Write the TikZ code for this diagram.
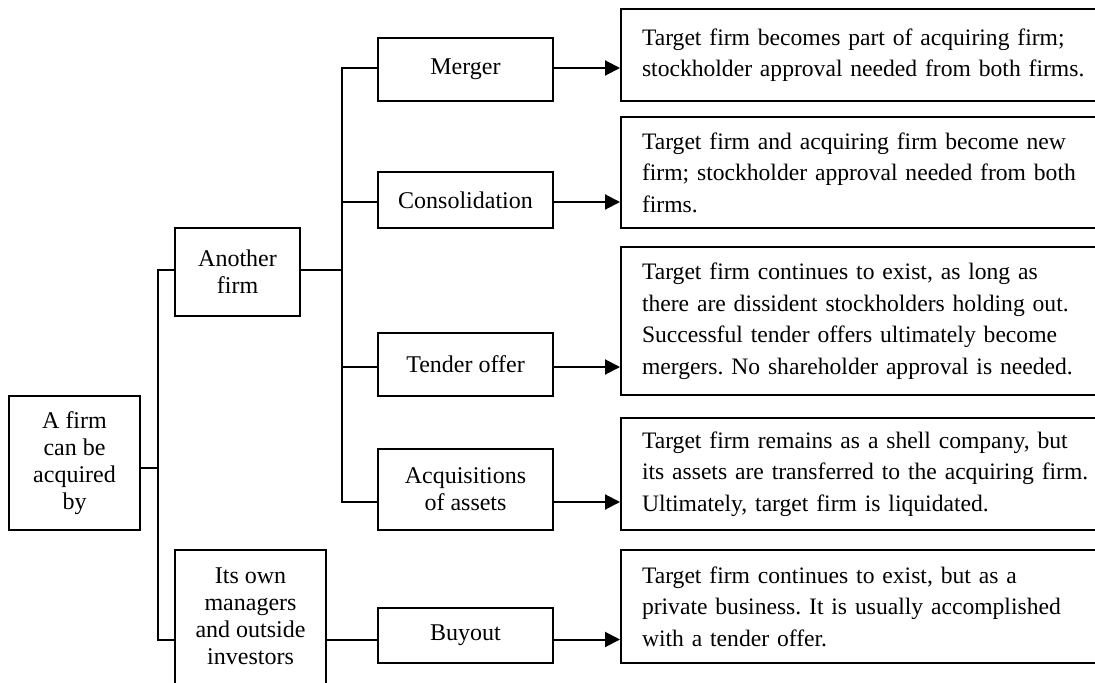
\documentclass[tikz,border=0pt]{standalone}
\usepackage{fontspec}
\setmainfont{Liberation Serif}
\usetikzlibrary{arrows.meta}
\frenchspacing
\tikzset{
  plainbox/.style={draw,line width=1pt,align=center,inner sep=0pt,font=\fontsize{12}{13.5}\selectfont},
  formnode/.style={plainbox,minimum width=87.5pt},
  descnode/.style={draw,line width=1pt,align=left,text width=228.5pt,inner xsep=10.5pt,inner ysep=0pt,font=\fontsize{11.8}{15.75}\selectfont},
  link/.style={line width=1pt},
  arrow/.style={-{Triangle[length=7.5pt,width=7.5pt]},line width=1pt}
}
\begin{document}
\begin{tikzpicture}[x=0.5pt,y=-0.5pt]
  \fill[white] (0,0) rectangle (1095,683);
  \useasboundingbox (0,0) rectangle (1095,683);
  \clip (0,0) rectangle (1095,683);

  \node[plainbox,minimum width=65.5pt,minimum height=67pt] (root) at (74.5,463) {A firm\\can be\\acquired\\by};
  \node[plainbox,minimum width=62.5pt,minimum height=44pt] (another) at (237.5,272) {Another\\firm};
  \node[plainbox,minimum width=75.5pt,minimum height=75pt,text depth=9pt] (itsown) at (250.5,625) {Its own\\managers\\and outside\\investors};

  \node[formnode,minimum height=31.5pt] (merger) at (465.5,69.5) {Merger};
  \node[formnode,minimum height=28pt] (consol) at (465.5,200) {Consolidation};
  \node[formnode,minimum height=31.5pt] (tender) at (465.5,364.5) {Tender offer};
  \node[formnode,minimum height=40.5pt] (acq) at (465.5,489.5) {Acquisitions\\of assets};
  \node[formnode,minimum height=27.5pt] (buyout) at (465.5,635.5) {Buyout};

  \node[descnode,minimum height=46pt] (d1) at (870.5,55) {Target firm becomes part of acquiring firm;\\stockholder approval needed from both firms.};
  \node[descnode,minimum height=55.5pt] (d2) at (870.5,172.5) {Target firm and acquiring firm become new\\firm; stockholder approval needed from both\\firms.};
  \node[descnode,minimum height=74pt] (d3) at (870.5,321) {Target firm continues to exist, as long as\\there are dissident stockholders holding out.\\Successful tender offers ultimately become\\mergers. No shareholder approval is needed.};
  \node[descnode,minimum height=56pt] (d4) at (870.5,474) {Target firm remains as a shell company, but\\its assets are transferred to the acquiring firm.\\Ultimately, target firm is liquidated.};
  \node[descnode,minimum height=56.5pt] (d5) at (870.5,606.5) {Target firm continues to exist, but as a\\private business. It is usually accomplished\\with a tender offer.};

  \coordinate (j1) at (158,0);
  \coordinate (j2) at (342,0);

  \draw[link] (root.east |- 0,468) -- (j1 |- 0,468);
  \draw[link] (another.west |- 0,270) -| (j1 |- 0,639.5) -- (itsown.west |- 0,639.5);
  \draw[link] (another.east |- 0,270) -- (j2 |- 0,270);
  \draw[link] (merger.west |- 0,68) -| (j2 |- 0,502) -- (acq.west |- 0,502);
  \draw[link] (j2 |- 0,202) -- (consol.west |- 0,202);
  \draw[link] (j2 |- 0,367) -- (tender.west |- 0,367);
  \draw[link] (itsown.east |- 0,639.5) -- (buyout.west |- 0,639.5);

  \foreach \src/\dst/\y in {merger/d1/68,consol/d2/202,tender/d3/367,acq/d4/502,buyout/d5/639.5}
    \draw[arrow] (\src.east |- 0,\y) -- (\dst.west |- 0,\y);
\end{tikzpicture}
\end{document}
